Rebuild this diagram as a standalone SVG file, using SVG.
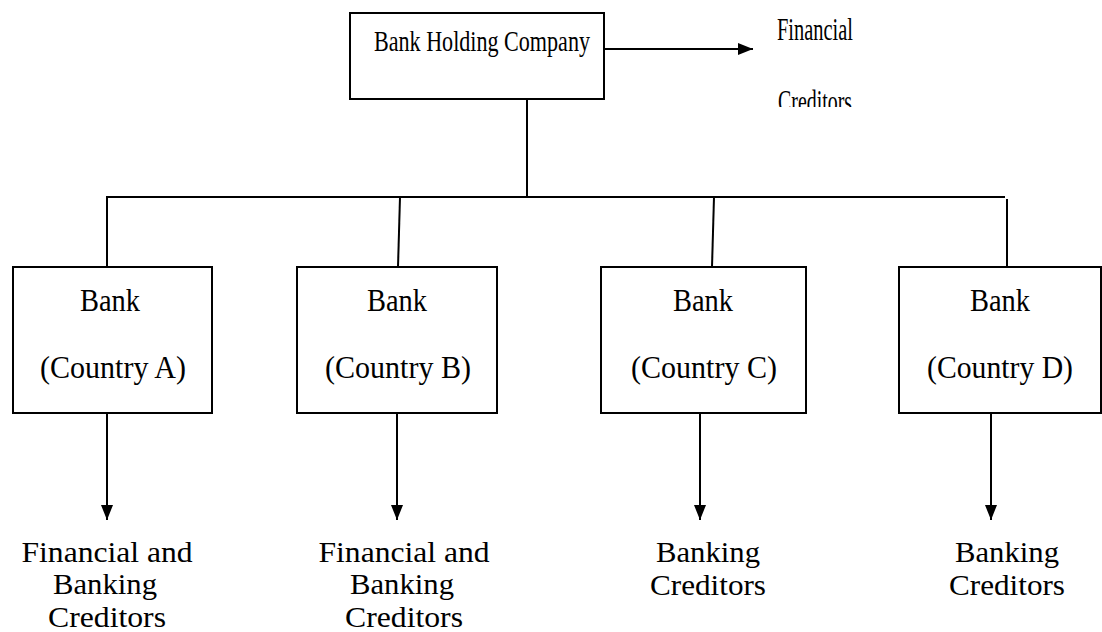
<svg xmlns="http://www.w3.org/2000/svg" width="1102" height="632" viewBox="0 0 1102 632">
<style>
.box{fill:#fff;stroke:#000;stroke-width:2}
.ln{fill:none;stroke:#000;stroke-width:2}
.t{font-family:"Liberation Serif","Times New Roman",serif;fill:#000;text-anchor:middle}
.bx{font-size:32px}
.cr{font-size:30px}
</style>
<defs>
<marker id="ah" markerUnits="userSpaceOnUse" markerWidth="15" markerHeight="14" viewBox="0 0 15 14" refX="15" refY="7" orient="auto">
<path d="M0,1 L15,7 L0,13 Z" fill="#000"/>
</marker>
<clipPath id="cl"><rect x="700" y="0" width="402" height="107"/></clipPath>
</defs>
<rect width="1102" height="632" fill="#fff"/>
<g id="connectors">
<path class="ln" d="M604,49 H753" marker-end="url(#ah)"/>
<path class="ln" d="M527,99 V197"/>
<path class="ln" d="M106,197 H1005"/>
<path class="ln" d="M107,197 V267"/>
<path class="ln" d="M400,197 L398,267"/>
<path class="ln" d="M714,197 L712,267"/>
<path class="ln" d="M1007,199 V267"/>
<path class="ln" d="M107,413 V520" marker-end="url(#ah)"/>
<path class="ln" d="M397,413 V520" marker-end="url(#ah)"/>
<path class="ln" d="M700,413 V520" marker-end="url(#ah)"/>
<path class="ln" d="M991,413 V520" marker-end="url(#ah)"/>
</g>
<g id="holding">
<rect class="box" x="350" y="13" width="254" height="86"/>
<text class="t" x="482" y="51" font-size="29" textLength="216" lengthAdjust="spacingAndGlyphs">Bank Holding Company</text>
</g>
<g id="fin-creditors" clip-path="url(#cl)">
<text class="t" x="815" y="40" font-size="32" textLength="76" lengthAdjust="spacingAndGlyphs">Financial</text>
<text class="t" x="815" y="112" font-size="32" textLength="74" lengthAdjust="spacingAndGlyphs">Creditors</text>
</g>
<g id="bankA">
<rect class="box" x="13" y="267" width="199" height="146"/>
<text class="t bx" x="110" y="311" textLength="60" lengthAdjust="spacingAndGlyphs">Bank</text>
<text class="t bx" x="113" y="378" textLength="146" lengthAdjust="spacingAndGlyphs">(Country A)</text>
</g>
<g id="bankB">
<rect class="box" x="297" y="267" width="200" height="146"/>
<text class="t bx" x="397" y="311" textLength="60" lengthAdjust="spacingAndGlyphs">Bank</text>
<text class="t bx" x="398" y="378" textLength="146" lengthAdjust="spacingAndGlyphs">(Country B)</text>
</g>
<g id="bankC">
<rect class="box" x="601" y="267" width="205" height="146"/>
<text class="t bx" x="703" y="311" textLength="60" lengthAdjust="spacingAndGlyphs">Bank</text>
<text class="t bx" x="704" y="378" textLength="146" lengthAdjust="spacingAndGlyphs">(Country C)</text>
</g>
<g id="bankD">
<rect class="box" x="899" y="267" width="202" height="146"/>
<text class="t bx" x="1000" y="311" textLength="60" lengthAdjust="spacingAndGlyphs">Bank</text>
<text class="t bx" x="1000" y="378" textLength="146" lengthAdjust="spacingAndGlyphs">(Country D)</text>
</g>
<g id="credA">
<text class="t cr" x="107" y="562" textLength="171" lengthAdjust="spacingAndGlyphs">Financial and</text>
<text class="t cr" x="105" y="594" textLength="104" lengthAdjust="spacingAndGlyphs">Banking</text>
<text class="t cr" x="107" y="627" textLength="118" lengthAdjust="spacingAndGlyphs">Creditors</text>
</g>
<g id="credB">
<text class="t cr" x="404" y="562" textLength="171" lengthAdjust="spacingAndGlyphs">Financial and</text>
<text class="t cr" x="402" y="594" textLength="104" lengthAdjust="spacingAndGlyphs">Banking</text>
<text class="t cr" x="404" y="627" textLength="118" lengthAdjust="spacingAndGlyphs">Creditors</text>
</g>
<g id="credC">
<text class="t cr" x="708" y="562" textLength="104" lengthAdjust="spacingAndGlyphs">Banking</text>
<text class="t cr" x="708" y="595" textLength="116" lengthAdjust="spacingAndGlyphs">Creditors</text>
</g>
<g id="credD">
<text class="t cr" x="1007" y="562" textLength="104" lengthAdjust="spacingAndGlyphs">Banking</text>
<text class="t cr" x="1007" y="595" textLength="116" lengthAdjust="spacingAndGlyphs">Creditors</text>
</g>
</svg>
